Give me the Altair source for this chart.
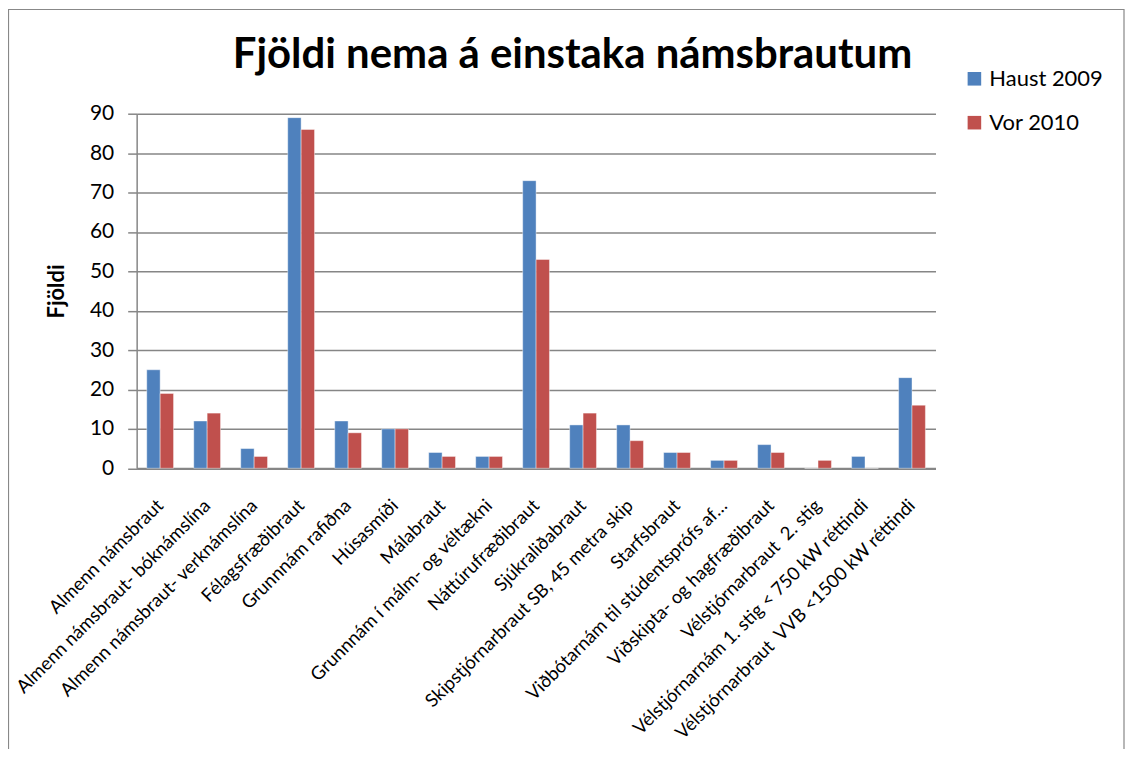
import altair as alt
import pandas as pd

categories = [
    "Almenn námsbraut",
    "Almenn námsbraut- bóknámslína",
    "Almenn námsbraut- verknámslína",
    "Félagsfræðibraut",
    "Grunnnám rafiðna",
    "Húsasmíði",
    "Málabraut",
    "Grunnnám í málm- og véltækni",
    "Náttúrufræðibraut",
    "Sjúkraliðabraut",
    "Skipstjórnarbraut SB, 45 metra skip",
    "Starfsbraut",
    "Viðbótarnám til stúdentsprófs af…",
    "Viðskipta- og hagfræðibraut",
    "Vélstjórnarbraut \u00a02. stig",
    "Vélstjórnarnám 1. stig < 750 kW réttindi",
    "Vélstjórnarbraut \u00a0VVB <1500 kW réttindi",
]
haust_2009 = [25, 12, 5, 89, 12, 10, 4, 3, 73, 11, 11, 4, 2, 6, 0, 3, 23]
vor_2010 = [19, 14, 3, 86, 9, 10, 3, 3, 53, 14, 7, 4, 2, 4, 2, 0, 16]
series = ["Haust 2009", "Vor 2010"]
colors = ["#4F81BD", "#C0504D"]
title_text = "Fjöldi nema á einstaka námsbrautum"

rows = []
for c, h, v in zip(categories, haust_2009, vor_2010):
    rows.append({"cat": c, "series": series[0], "value": h})
    rows.append({"cat": c, "series": series[1], "value": v})
df = pd.DataFrame(rows)

FONT = "Lato"
W, H = 801, 355.5

bars = alt.Chart(df).mark_bar(stroke="white", strokeWidth=0.6, strokeOpacity=0.7).encode(
    x=alt.X("cat:N", sort=categories, title=None,
            scale=alt.Scale(paddingInner=0.43, paddingOuter=0.215),
            axis=alt.Axis(labelAngle=315, labelAlign="right", labelBaseline="middle",
                          labelFontSize=18.5, labelColor="black", labelFont=FONT,
                          labelPadding=34, ticks=False, domainColor="#868686",
                          domainWidth=2, labelLimit=500, labelOverlap=False)),
    xOffset=alt.XOffset("series:N", sort=series),
    y=alt.Y("value:Q", title="Fjöldi",
            scale=alt.Scale(domain=[0, 90]),
            axis=alt.Axis(values=list(range(0, 91, 10)), labelFontSize=21,
                          labelColor="black", labelFont=FONT, labelPadding=14,
                          tickSize=9, tickColor="#868686", tickWidth=1.5,
                          domainColor="#868686", domainWidth=1.5,
                          gridColor="#868686", gridWidth=1.5,
                          titleFont=FONT, titleFontSize=22, titleFontWeight="bold",
                          titleColor="black", titlePadding=21)),
    color=alt.Color("series:N", sort=series,
                    scale=alt.Scale(domain=series, range=colors),
                    legend=alt.Legend(title=None, orient="none", legendX=829, legendY=-46,
                                      symbolType="square", symbolSize=185,
                                      symbolStrokeWidth=0, labelFont=FONT,
                                      labelFontSize=22, labelColor="black",
                                      rowPadding=22, labelOffset=4)),
)

title = alt.Chart(pd.DataFrame({"t": [title_text]})).mark_text(
    font=FONT, fontSize=42, fontWeight="bold", color="black",
    align="center", baseline="alphabetic"
).encode(text="t:N", x=alt.value(437), y=alt.value(-46))

frame = alt.Chart(pd.DataFrame({"a": [0]})).mark_rect(
    fill=None, stroke="#888888", strokeWidth=1.2
).encode(
    x=alt.value(-128.5), x2=alt.value(990),
    y=alt.value(-104.5), y2=alt.value(700),
)

chart = alt.layer(frame, title, bars).properties(
    width=W, height=H,
    autosize=alt.AutoSizeParams(type="none"),
    padding={"left": 129, "top": 105, "right": 190, "bottom": 280},
).configure_view(stroke=None)

chart.save("out.html", embed_options={"renderer": "svg", "actions": False})
